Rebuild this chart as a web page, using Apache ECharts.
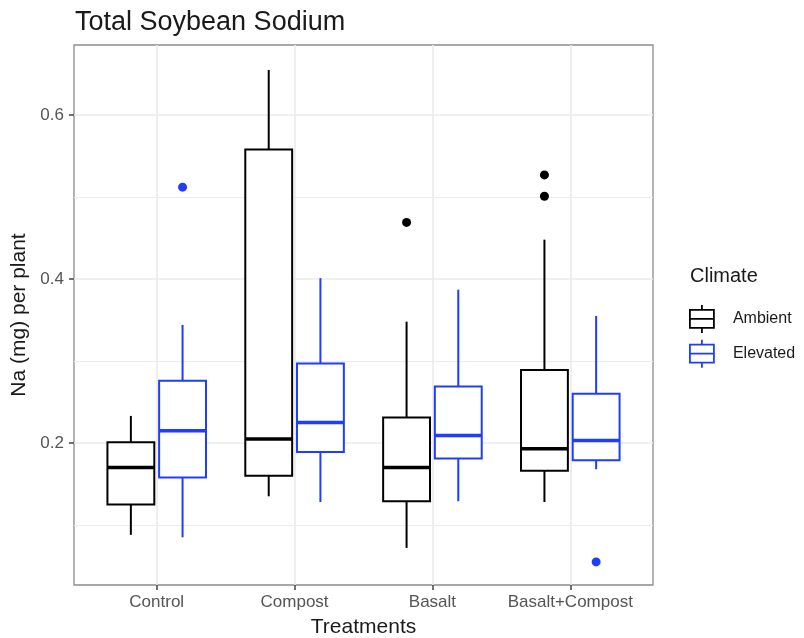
<!DOCTYPE html>
<html>
<head>
<meta charset="utf-8">
<script src="https://cdn.jsdelivr.net/npm/echarts@6/dist/echarts.min.js"></script>
<style>
  html, body { margin: 0; padding: 0; background: #fff; }
  #chart { width: 804px; height: 638px; }
</style>
</head>
<body>
<div id="chart"></div>
<script>
// Treatment groups along the x axis
const categories = ['Control', 'Compost', 'Basalt', 'Basalt+Compost'];

// Box statistics per treatment: [lower whisker, Q1, median, Q3, upper whisker]
const ambientStats = [
  [0.088, 0.125, 0.170, 0.201, 0.233],
  [0.135, 0.160, 0.205, 0.558, 0.655],
  [0.072, 0.129, 0.170, 0.231, 0.348],
  [0.128, 0.166, 0.193, 0.289, 0.448]
];
const elevatedStats = [
  [0.085, 0.158, 0.215, 0.276, 0.344],
  [0.128, 0.189, 0.225, 0.297, 0.401],
  [0.129, 0.181, 0.209, 0.269, 0.387],
  [0.168, 0.179, 0.203, 0.260, 0.355]
];

// Outlying points: [treatment index, value]
const ambientOutliers = [[2, 0.469], [3, 0.527], [3, 0.501]];
const elevatedOutliers = [[0, 0.512], [3, 0.055]];

// Axis tick values
const yTicks = [0.2, 0.4, 0.6];
const yMinorLines = [0.1, 0.3, 0.5];

const AMBIENT_COLOR = '#000000';
const ELEVATED_COLOR = '#1f3dff';
const DODGE = 0.1875;
const BOX_WIDTH = 0.34;
const FONT = 'Liberation Sans, Arial, sans-serif';

function boxData(stats, offset) {
  return stats.map((s, i) => [i + 1 + offset].concat(s));
}
function pointData(points, offset) {
  return points.map(p => [p[0] + 1 + offset, p[1]]);
}

function boxRenderer(color) {
  return function (params, api) {
    const x = api.value(0);
    const lo = api.coord([x, api.value(1)]);
    const q1 = api.coord([x, api.value(2)]);
    const md = api.coord([x, api.value(3)]);
    const q3 = api.coord([x, api.value(4)]);
    const hi = api.coord([x, api.value(5)]);
    const half = api.size([BOX_WIDTH, 0])[0] / 2;
    return {
      type: 'group',
      children: [
        { type: 'line', shape: { x1: hi[0], y1: hi[1], x2: q3[0], y2: q3[1] },
          style: { stroke: color, lineWidth: 2 } },
        { type: 'line', shape: { x1: q1[0], y1: q1[1], x2: lo[0], y2: lo[1] },
          style: { stroke: color, lineWidth: 2 } },
        { type: 'rect', shape: { x: q3[0] - half, y: q3[1], width: half * 2, height: q1[1] - q3[1] },
          style: { fill: '#ffffff', stroke: color, lineWidth: 2 } },
        { type: 'line', shape: { x1: md[0] - half, y1: md[1], x2: md[0] + half, y2: md[1] },
          style: { stroke: color, lineWidth: 3.5 } }
      ]
    };
  };
}

const boxIcon = 'path://M12,0 L12,5 M0,5 L24,5 L24,23 L0,23 Z M0,14 L24,14 M12,23 L12,28';

const chart = echarts.init(document.getElementById('chart'), null, { renderer: 'canvas' });

const gridColor = '#ebebeb';

chart.setOption({
  backgroundColor: '#ffffff',
  animation: false,
  textStyle: { fontFamily: FONT },
  title: {
    text: 'Total Soybean Sodium',
    left: 70,
    top: 4,
    textStyle: { fontSize: 27, fontWeight: 'normal', color: '#1a1a1a', fontFamily: FONT }
  },
  grid: {
    left: 74, right: 151, top: 45, bottom: 53,
    outerBoundsMode: 'none',
    containLabel: false,
    show: true, borderColor: '#8c8c8c', borderWidth: 1.3, backgroundColor: '#ffffff'
  },
  xAxis: {
    type: 'value',
    min: 0.4,
    max: 4.6,
    name: 'Treatments',
    nameLocation: 'middle',
    nameGap: 32,
    nameTextStyle: { fontSize: 21, color: '#1a1a1a' },
    axisLine: { show: false },
    axisTick: { show: true, length: 5, lineStyle: { color: '#444', width: 1.5 }, customValues: [1, 2, 3, 4] },
    axisLabel: {
      customValues: [1, 2, 3, 4],
      formatter: v => categories[Math.round(v) - 1],
      fontSize: 17, color: '#555', margin: 9
    },
    splitLine: { show: false }
  },
  yAxis: {
    type: 'value',
    min: 0.0268,
    max: 0.6854,
    name: 'Na (mg) per plant',
    nameLocation: 'middle',
    nameRotate: 90,
    nameGap: 37,
    nameTextStyle: { fontSize: 21, color: '#1a1a1a' },
    axisLine: { show: false },
    axisTick: { show: true, length: 5, lineStyle: { color: '#444', width: 1.5 }, customValues: yTicks },
    axisLabel: {
      customValues: yTicks,
      formatter: v => v.toFixed(1),
      fontSize: 17, color: '#555', margin: 10
    },
    splitLine: { show: false }
  },
  legend: {
    orient: 'vertical',
    left: 684,
    top: 299,
    itemWidth: 24,
    itemHeight: 28,
    itemGap: 5,
    textStyle: { fontSize: 16, color: '#1a1a1a', padding: [0, 0, 0, 14] },
    selectedMode: false,
    data: [
      { name: 'Ambient', icon: boxIcon,
        itemStyle: { color: '#ffffff', borderColor: AMBIENT_COLOR, borderWidth: 1.8 } },
      { name: 'Elevated', icon: boxIcon,
        itemStyle: { color: '#ffffff', borderColor: ELEVATED_COLOR, borderWidth: 1.8 } }
    ]
  },
  graphic: [{
    type: 'text',
    left: 690,
    top: 266,
    style: { text: 'Climate', fontSize: 20, fill: '#1a1a1a', fontFamily: FONT }
  }],
  series: [
    {
      name: 'grid',
      type: 'line',
      data: [],
      z: 1,
      silent: true,
      markLine: {
        silent: true,
        z: 1,
        symbol: 'none',
        label: { show: false },
        animation: false,
        data: [
          ...yMinorLines.map(v => ({ yAxis: v, lineStyle: { color: gridColor, width: 1, type: 'solid' } })),
          ...yTicks.map(v => ({ yAxis: v, lineStyle: { color: gridColor, width: 1.6, type: 'solid' } })),
          ...categories.map((c, i) => ({ xAxis: i + 1, lineStyle: { color: gridColor, width: 1.6, type: 'solid' } }))
        ]
      }
    },
    {
      name: 'Ambient',
      type: 'custom',
      z: 3,
      itemStyle: { color: AMBIENT_COLOR },
      renderItem: boxRenderer(AMBIENT_COLOR),
      encode: { x: 0, y: [1, 2, 3, 4, 5] },
      data: boxData(ambientStats, -DODGE)
    },
    {
      name: 'Elevated',
      type: 'custom',
      z: 3,
      itemStyle: { color: ELEVATED_COLOR },
      renderItem: boxRenderer(ELEVATED_COLOR),
      encode: { x: 0, y: [1, 2, 3, 4, 5] },
      data: boxData(elevatedStats, DODGE)
    },
    {
      name: 'Ambient outliers',
      type: 'scatter',
      z: 4,
      symbolSize: 9,
      itemStyle: { color: AMBIENT_COLOR, opacity: 1 },
      data: pointData(ambientOutliers, -DODGE)
    },
    {
      name: 'Elevated outliers',
      type: 'scatter',
      z: 4,
      symbolSize: 9,
      itemStyle: { color: ELEVATED_COLOR, opacity: 1 },
      data: pointData(elevatedOutliers, DODGE)
    }
  ]
});
</script>
</body>
</html>
